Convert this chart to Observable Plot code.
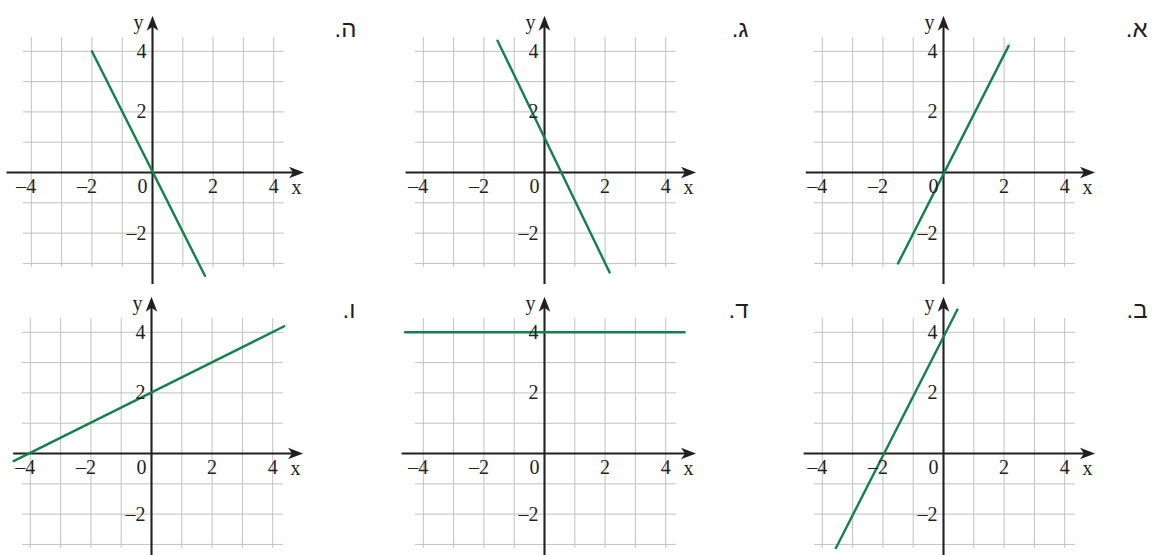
<!DOCTYPE html>
<html>
<head>
<meta charset="utf-8">
<script src="https://cdn.jsdelivr.net/npm/d3@7"></script>
<script src="https://cdn.jsdelivr.net/npm/@observablehq/plot@0.6"></script>
<style>
  html, body { margin: 0; padding: 0; background: #fff; overflow: hidden; }
  #chart { position: relative; width: 1153px; height: 555px; overflow: hidden; background: #fff; }
  #chart > svg { position: absolute; }
</style>
</head>
<body>
<div id="chart"></div>
<script>
// ---- data ----
const panelLabels = ["א", "ב", "ג", "ד", "ה", "ו"];
const lineStartX = [-1.5, -3.55, -1.55, -4.6, -2.0, -4.55];
const lineStartY = [-3.0, -3.12, 4.35, 4.0, 4.0, -0.25];
const lineEndX   = [2.15, 0.46, 2.15, 4.62, 1.73, 4.38];
const lineEndY   = [4.18, 4.75, -3.3, 4.0, -3.41, 4.2];
const gridX = [-4, -3, -2, -1, 0, 1, 2, 3, 4];
const gridY = [-3, -2, -1, 0, 1, 2, 3, 4];
const xTickValues = [-4, -2, 2, 4];
const yTickValues = [4, 2, -2];

// ---- layout (pixel origin of each panel on the page) ----
const layout = {
  "א": {ox: 943.3, oy: 171.7, axisLeft: -4.53},
  "ב": {ox: 943.3, oy: 453.3, axisLeft: -4.6},
  "ג": {ox: 544.3, oy: 171.7, axisLeft: -4.57},
  "ד": {ox: 544.0, oy: 453.3, axisLeft: -4.7},
  "ה": {ox: 151.7, oy: 171.7, axisLeft: -4.8},
  "ו": {ox: 150.7, oy: 453.3, axisLeft: -4.55}
};
const u = 30.3;      // pixels per unit
const W = 390, H = 300, OX = 150, OY = 172;
const ink = "#231f20";
const gridColor = "#c0c0c0";
const green = "#11824a";
const serif = "'Liberation Serif', 'Times New Roman', 'DejaVu Serif', serif";
const sans = "'Liberation Sans', 'DejaVu Sans', sans-serif";
const fmt = v => (v < 0 ? "\u2013" + Math.abs(v) : String(v));

const arrowHead = {
  draw(ctx) {
    ctx.moveTo(0, 0);
    ctx.lineTo(5.8, 15);
    ctx.lineTo(0, 11);
    ctx.lineTo(-5.8, 15);
    ctx.closePath();
  }
};

const chart = document.getElementById("chart");

panelLabels.forEach((label, i) => {
  const L = layout[label];
  const seg = [[lineStartX[i], lineStartY[i]], [lineEndX[i], lineEndY[i]]];
  const svg = Plot.plot({
    width: W,
    height: H,
    margin: 0,
    x: {domain: [-OX / u, (W - OX) / u], axis: null},
    y: {domain: [-(H - OY) / u, OY / u], axis: null},
    style: {background: "transparent", overflow: "visible"},
    marks: [
      Plot.ruleX(gridX, {y1: -3.13, y2: 4.45, stroke: gridColor, strokeWidth: 1}),
      Plot.ruleY(gridY, {x1: -4.26, x2: 4.35, stroke: gridColor, strokeWidth: 1}),
      Plot.ruleY([0], {x1: L.axisLeft, x2: 4.75, stroke: ink, strokeWidth: 2.1}),
      Plot.ruleX([0], {y1: -3.7, y2: 4.85, stroke: ink, strokeWidth: 2.1}),
      Plot.dot([[5.0, 0]], {x: d => d[0], y: d => d[1], symbol: arrowHead, rotate: 90, fill: ink, stroke: "none", r: 5}),
      Plot.dot([[0, 5.17]], {x: d => d[0], y: d => d[1], symbol: arrowHead, rotate: 0, fill: ink, stroke: "none", r: 5}),
      Plot.line(seg, {stroke: green, strokeWidth: 2.4}),
      Plot.text(xTickValues, {x: d => d, y: 0, text: fmt, textAnchor: "end", lineAnchor: "bottom", dx: 5, dy: 20, fontFamily: serif, fontSize: 20, fill: ink}),
      Plot.text(["0"], {x: 0, y: 0, text: d => d, textAnchor: "end", lineAnchor: "bottom", dx: -5, dy: 20, fontFamily: serif, fontSize: 20, fill: ink}),
      Plot.text(yTickValues, {x: 0, y: d => d, text: fmt, textAnchor: "end", lineAnchor: "middle", dx: -6, fontFamily: serif, fontSize: 20, fill: ink}),
      Plot.text(["x"], {x: 4.75, y: 0, text: d => d, textAnchor: "middle", lineAnchor: "middle", dy: 15, fontFamily: serif, fontSize: 20, fill: ink}),
      Plot.text(["y"], {x: 0, y: 4.95, text: d => d, textAnchor: "end", lineAnchor: "middle", dx: -9, fontFamily: serif, fontSize: 20, fill: ink}),
      Plot.text([label + ".\u200F"], {x: 204 / u, y: 136 / u, text: d => d, textAnchor: "end", lineAnchor: "bottom", fontFamily: sans, fontSize: 24, fill: ink})
    ]
  });
  svg.style.left = (L.ox - OX) + "px";
  svg.style.top = (L.oy - OY) + "px";
  svg.style.maxWidth = "none";
  chart.appendChild(svg);
});
</script>
</body>
</html>
